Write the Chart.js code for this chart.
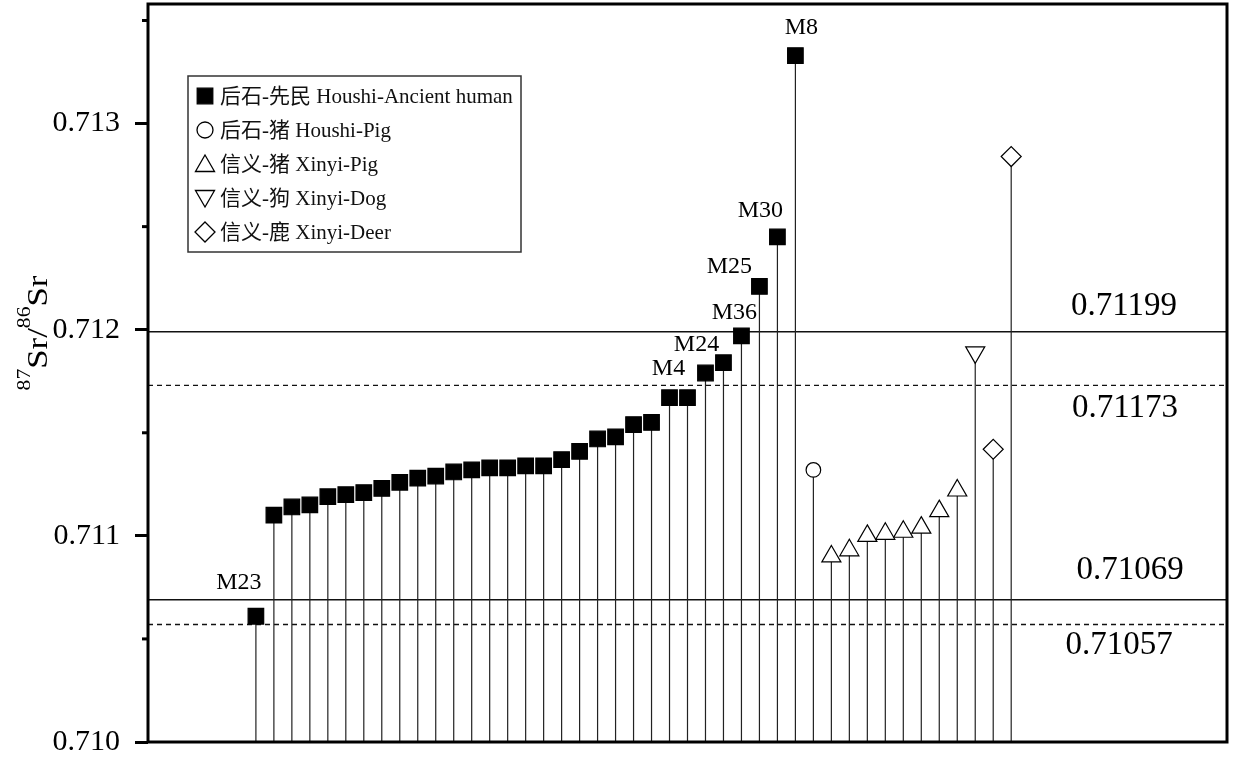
<!DOCTYPE html>
<html>
<head>
<meta charset="utf-8">
<script src="https://cdn.jsdelivr.net/npm/chart.js@4.4.1/dist/chart.umd.min.js"></script>
<style>
  html, body { margin: 0; padding: 0; background: #fff; }
  #wrap { width: 1234px; height: 765px; position: relative; }
</style>
</head>
<body>
<div id="wrap"><canvas id="myChart"></canvas></div>
<script>
// 87Sr/86Sr values, samples in plotting order
var humanValues = [
    0.71061, 0.71110, 0.71114, 0.71115, 0.71119, 0.71120, 0.71121, 0.71123,
    0.71126, 0.71128, 0.71129, 0.71131, 0.71132, 0.71133, 0.71133, 0.71134,
    0.71134, 0.71137, 0.71141, 0.71147, 0.71148, 0.71154, 0.71155, 0.71167,
    0.71167, 0.71179, 0.71184, 0.71197, 0.71221, 0.71245, 0.71333
];
var houshiPigValues = [0.71132];
var xinyiPigValues = [0.71090, 0.71093, 0.71100, 0.71101, 0.71102, 0.71104, 0.71112, 0.71122];
var xinyiDogValues = [0.71189];
var xinyiDeerValues = [0.71142, 0.71284];

var seriesNames = [
    '后石-先民 Houshi-Ancient human',
    '后石-猪 Houshi-Pig',
    '信义-猪 Xinyi-Pig',
    '信义-狗 Xinyi-Dog',
    '信义-鹿 Xinyi-Deer'
];

// labelled burials (index into humanValues)
var sampleLabels = ['M23', 'M4', 'M24', 'M36', 'M25', 'M30', 'M8'];
var sampleLabelIndex = [0, 25, 26, 27, 28, 29, 30];

// reference range lines
var refValues = [0.71199, 0.71173, 0.71069, 0.71057];
var refLabels = ['0.71199', '0.71173', '0.71069', '0.71057'];
var refDashed = [false, true, false, true];

var yTickLabels = ['0.710', '0.711', '0.712', '0.713'];

var SERIF = "'Liberation Serif', 'Noto Sans CJK SC', serif";

// build {x, y} points, one x slot per sample
var groups = [humanValues, houshiPigValues, xinyiPigValues, xinyiDogValues, xinyiDeerValues];
var groupData = [];
var slot = 0;
groups.forEach(function(vals){
    groupData.push(vals.map(function(v, k){ return {x: slot + k, y: v}; }));
    slot += vals.length;
});

var styles = [
    {pointStyle: 'rect', radius: 11, rotation: 0, fill: '#000'},
    {pointStyle: 'circle', radius: 7.3, rotation: 0, fill: '#fff'},
    {pointStyle: 'triangle', radius: 11, rotation: 0, fill: '#fff'},
    {pointStyle: 'triangle', radius: 11, rotation: 180, fill: '#fff'},
    {pointStyle: 'rectRot', radius: 10, rotation: 0, fill: '#fff'}
];

var datasets = groupData.map(function(d, i){
    return {
        label: seriesNames[i],
        data: d,
        showLine: false,
        pointStyle: styles[i].pointStyle,
        pointRadius: styles[i].radius,
        pointHoverRadius: styles[i].radius,
        pointRotation: styles[i].rotation,
        pointBackgroundColor: styles[i].fill,
        pointBorderColor: '#000',
        pointBorderWidth: 1.2
    };
});

// draws a marker shape for the legend
function drawSymbol(ctx, st, x, y, r){
    ctx.save();
    ctx.fillStyle = st.fill;
    ctx.strokeStyle = '#000';
    ctx.lineWidth = 1.3;
    ctx.beginPath();
    if (st.pointStyle === 'rect') {
        var s = r * Math.SQRT1_2;
        ctx.rect(x - s, y - s, 2 * s, 2 * s);
    } else if (st.pointStyle === 'circle') {
        ctx.arc(x, y, r, 0, Math.PI * 2);
    } else if (st.pointStyle === 'triangle') {
        var rad = st.rotation * Math.PI / 180;
        for (var k = 0; k < 3; k++) {
            var a = rad + k * 2 * Math.PI / 3;
            var px = x + Math.sin(a) * r, py = y - Math.cos(a) * r;
            if (k === 0) ctx.moveTo(px, py); else ctx.lineTo(px, py);
        }
    } else {
        ctx.moveTo(x, y - r); ctx.lineTo(x + r, y); ctx.lineTo(x, y + r); ctx.lineTo(x - r, y);
    }
    ctx.closePath();
    ctx.fill();
    ctx.stroke();
    ctx.restore();
}

function isMajor(v){
    return Math.abs(v * 1000 - Math.round(v * 1000)) < 1e-6;
}

var decorPlugin = {
    id: 'decor',
    beforeDatasetsDraw: function(chart){
        var ctx = chart.ctx, area = chart.chartArea, ys = chart.scales.y;
        ctx.save();
        // reference lines
        refValues.forEach(function(v, i){
            var py = ys.getPixelForValue(v);
            ctx.beginPath();
            ctx.setLineDash(refDashed[i] ? [5, 4] : []);
            ctx.lineWidth = 1.3;
            ctx.strokeStyle = '#111';
            ctx.moveTo(area.left, py);
            ctx.lineTo(area.right, py);
            ctx.stroke();
        });
        ctx.setLineDash([]);
        // stems from each point down to the axis
        var base = ys.getPixelForValue(ys.min);
        ctx.lineWidth = 1.2;
        ctx.strokeStyle = '#222';
        chart.data.datasets.forEach(function(ds, i){
            chart.getDatasetMeta(i).data.forEach(function(el){
                ctx.beginPath();
                ctx.moveTo(el.x, el.y);
                ctx.lineTo(el.x, base);
                ctx.stroke();
            });
        });
        ctx.restore();
    },
    afterDatasetsDraw: function(chart){
        var ctx = chart.ctx, area = chart.chartArea, ys = chart.scales.y;
        ctx.save();
        ctx.fillStyle = '#000';
        ctx.textAlign = 'center';
        ctx.textBaseline = 'middle';
        // burial labels
        var offs = [[-17, -34], [-37, -4], [-27, -18], [-7, -23], [-30, -20], [-17, -26], [6, -28]];
        ctx.font = '24px ' + SERIF;
        var pts = chart.getDatasetMeta(0).data;
        sampleLabels.forEach(function(t, i){
            var el = pts[sampleLabelIndex[i]];
            ctx.fillText(t, el.x + offs[i][0], el.y + offs[i][1]);
        });
        // reference value labels
        ctx.font = '33px ' + SERIF;
        var refOffs = [[-103, -25], [-102, 23], [-97, -29], [-108, 21]];
        refValues.forEach(function(v, i){
            var py = ys.getPixelForValue(v);
            ctx.fillText(refLabels[i], area.right + refOffs[i][0], py + refOffs[i][1]);
        });
        ctx.restore();
    },
    afterDraw: function(chart){
        var ctx = chart.ctx, area = chart.chartArea, ys = chart.scales.y;
        ctx.save();
        // minor ticks
        ctx.strokeStyle = '#000';
        ctx.lineWidth = 3;
        ys.ticks.forEach(function(t){
            if (!isMajor(t.value)) {
                var py = ys.getPixelForValue(t.value);
                ctx.beginPath();
                ctx.moveTo(area.left - 6, py);
                ctx.lineTo(area.left, py);
                ctx.stroke();
            }
        });
        // frame
        ctx.lineWidth = 3;
        ctx.strokeRect(area.left, area.top, area.right - area.left, area.bottom - area.top);

        // legend box
        var lx = 188, ly = 76, lw = 333, lh = 176;
        ctx.fillStyle = '#fff';
        ctx.fillRect(lx, ly, lw, lh);
        ctx.lineWidth = 1.5;
        ctx.strokeStyle = '#333';
        ctx.strokeRect(lx, ly, lw, lh);
        ctx.font = '21px ' + SERIF;
        ctx.textAlign = 'left';
        ctx.textBaseline = 'middle';
        var symR = [11, 8, 11, 11, 10];
        seriesNames.forEach(function(name, i){
            var cy = ly + 20 + i * 34;
            drawSymbol(ctx, styles[i], lx + 17, cy + (i === 2 ? 2 : (i === 3 ? -2 : 0)), symR[i]);
            ctx.fillStyle = '#111';
            ctx.fillText(name, lx + 32, cy + 1);
        });

        // y axis title 87Sr/86Sr
        var parts = [['87', true], ['Sr', false], ['/', false], ['86', true], ['Sr', false]];
        var big = '29px ' + SERIF, small = '18px ' + SERIF;
        var total = 0;
        parts.forEach(function(p){ ctx.font = p[1] ? small : big; total += ctx.measureText(p[0]).width; });
        ctx.translate(47, 333);
        ctx.rotate(-Math.PI / 2);
        ctx.scale(1.2, 1);
        ctx.textBaseline = 'alphabetic';
        ctx.fillStyle = '#000';
        var cx = -total / 2;
        parts.forEach(function(p){
            ctx.font = p[1] ? small : big;
            ctx.fillText(p[0], cx, p[1] ? -17 : 0);
            cx += ctx.measureText(p[0]).width;
        });
        ctx.restore();
    }
};

var ctx = document.getElementById('myChart').getContext('2d');
var chart = new Chart(ctx, {
    type: 'scatter',
    data: { datasets: datasets },
    options: {
        responsive: true,
        maintainAspectRatio: false,
        animation: false,
        layout: { autoPadding: false, padding: { top: 4, right: 7, bottom: 23, left: 0 } },
        plugins: {
            legend: { display: false },
            tooltip: { enabled: false }
        },
        scales: {
            x: {
                type: 'linear',
                display: false,
                min: -6,
                max: 54
            },
            y: {
                type: 'linear',
                min: 0.710,
                max: 0.71358,
                afterFit: function(scale){
                    scale.width = 148;
                    scale.paddingTop = 0;
                    scale.paddingBottom = 0;
                    scale.paddingLeft = 0;
                    scale.paddingRight = 0;
                },
                border: { display: false },
                grid: {
                    drawOnChartArea: false,
                    drawTicks: true,
                    tickLength: 13,
                    tickWidth: 3,
                    tickColor: function(c){ return isMajor(c.tick.value) ? '#000' : 'rgba(0,0,0,0)'; }
                },
                ticks: {
                    stepSize: 0.0005,
                    includeBounds: false,
                    padding: 15,
                    color: '#000',
                    font: { family: SERIF, size: 30 },
                    callback: function(v){
                        if (!isMajor(v)) return '';
                        var i = Math.round((v - 0.710) * 1000);
                        return yTickLabels[i] !== undefined ? yTickLabels[i] : v.toFixed(3);
                    }
                }
            }
        }
    },
    plugins: [decorPlugin]
});
</script>
</body>
</html>
